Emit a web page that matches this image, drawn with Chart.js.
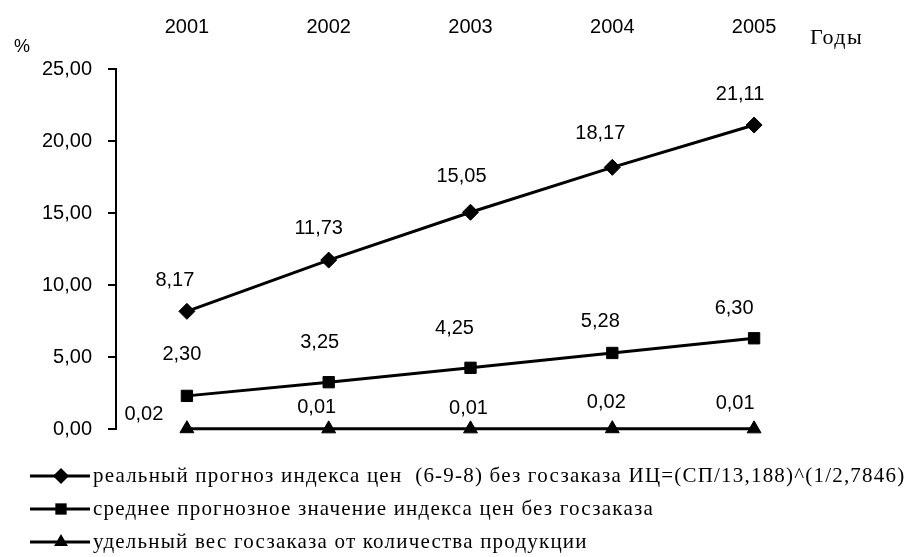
<!DOCTYPE html>
<html><head><meta charset="utf-8">
<script src="https://cdn.jsdelivr.net/npm/chart.js@4/dist/chart.umd.min.js"></script>
<style>html,body{margin:0;padding:0;background:#fff}#wrap{width:914px;height:557px}</style>
</head><body><div id="wrap"><canvas id="c" width="914" height="557"></canvas></div>
<script>
// ---- data ----
const years = ['2001', '2002', '2003', '2004', '2005'];
const realForecast = [8.17, 11.73, 15.05, 18.17, 21.11];
const avgForecast = [2.30, 3.25, 4.25, 5.28, 6.30];
const stateOrderShare = [0.02, 0.01, 0.01, 0.02, 0.01];
const seriesNames = [
  'реальный прогноз индекса цен  (6-9-8) без госзаказа ИЦ=(СП/13,188)^(1/2,7846)',
  'среднее прогнозное значение индекса цен без госзаказа',
  'удельный вес госзаказа от количества продукции'
];
const yMin = 0, yMax = 25, yStep = 5;
const yUnit = '%';
const xUnit = 'Годы';

// ---- style ----
const NUM_FONT = '20px "Liberation Sans", Arial, sans-serif';
const SERIF_FONT = '21px "Liberation Serif", "Times New Roman", serif';
const markerStyles = ['rectRot', 'rect', 'triangle'];
// label offsets (px) relative to each point, per series
const labelDX = [[-12, -10, -9, -12, -14], [-5, -9, -16, -12, -20], [-43, -12, -2, -6, -19]];
const labelDY = [[-31, -32, -36, -34, -31], [-41, -40, -39, -31, -30], [-14, -21, -20, -26, -25]];

const fmt = v => v.toFixed(2).replace('.', ',');

function drawMarker(ctx, style, x, y, r) {
  ctx.save();
  ctx.fillStyle = '#000';
  ctx.beginPath();
  if (style === 'rectRot') {
    ctx.moveTo(x, y - r); ctx.lineTo(x + r, y); ctx.lineTo(x, y + r); ctx.lineTo(x - r, y);
  } else if (style === 'rect') {
    const s = r * Math.SQRT1_2;
    ctx.rect(x - s, y - s, 2 * s, 2 * s);
  } else {
    const h = r * 0.866;
    ctx.moveTo(x, y - r); ctx.lineTo(x + h, y + r / 2); ctx.lineTo(x - h, y + r / 2);
  }
  ctx.closePath();
  ctx.fill();
  ctx.restore();
}

const extras = {
  id: 'extras',
  afterDatasetsDraw(chart) {
    const ctx = chart.ctx;
    ctx.save();
    ctx.fillStyle = '#000';
    ctx.font = NUM_FONT;
    ctx.textAlign = 'center';
    ctx.textBaseline = 'middle';
    chart.data.datasets.forEach((ds, di) => {
      chart.getDatasetMeta(di).data.forEach((pt, i) => {
        ctx.fillText(fmt(ds.data[i]), pt.x + labelDX[di][i], pt.y + labelDY[di][i]);
      });
    });
    // axis unit labels
    const ys = chart.scales.y, xs = chart.scales.x;
    ctx.font = '18px "Liberation Sans", Arial, sans-serif';
    ctx.fillText(yUnit, 22, ys.getPixelForValue(yMax) - 22);
    ctx.font = '22px "Liberation Serif", "Times New Roman", serif';
    ctx.textAlign = 'left';
    ctx.letterSpacing = '1.5px';
    ctx.fillText(xUnit, xs.getPixelForValue(years.length - 1) + 56, 38);
    // legend
    const rows = [476, 509, 542];
    ctx.font = SERIF_FONT;
    ctx.letterSpacing = '1.2px';
    chart.data.datasets.forEach((ds, di) => {
      const y = rows[di];
      ctx.strokeStyle = '#000';
      ctx.lineWidth = 3;
      ctx.beginPath(); ctx.moveTo(30, y); ctx.lineTo(90, y); ctx.stroke();
      drawMarker(ctx, markerStyles[di], 61, y, 8);
      ctx.fillText(ds.label, 93, y);
    });
    ctx.restore();
  }
};

const mk = (label, data, style) => ({
  label, data,
  borderColor: '#000', backgroundColor: '#000', borderWidth: 3,
  pointStyle: style, pointRadius: 8, pointBackgroundColor: '#000', pointBorderColor: '#000', pointBorderWidth: 1,
  tension: 0, clip: false
});

new Chart(document.getElementById('c'), {
  type: 'line',
  data: {
    labels: years,
    datasets: [
      mk(seriesNames[0], realForecast, markerStyles[0]),
      mk(seriesNames[1], avgForecast, markerStyles[1]),
      mk(seriesNames[2], stateOrderShare, markerStyles[2])
    ]
  },
  options: {
    responsive: false, animation: false, devicePixelRatio: 1,
    layout: { padding: { left: 0, right: 89, top: 0, bottom: 128 } },
    plugins: { legend: { display: false }, tooltip: { enabled: false } },
    scales: {
      x: {
        type: 'category', position: 'top', offset: true,
        grid: { display: false, drawTicks: false }, border: { display: false },
        ticks: { color: '#000', font: { family: '"Liberation Sans", Arial, sans-serif', size: 20 }, padding: 30, maxRotation: 0 },
        afterFit: s => { s.height = 69; }
      },
      y: {
        min: yMin, max: yMax,
        ticks: { stepSize: yStep, color: '#000', padding: 16, font: { family: '"Liberation Sans", Arial, sans-serif', size: 20 }, callback: v => fmt(v) },
        grid: { drawOnChartArea: false, drawTicks: true, tickLength: 8, color: '#000', lineWidth: 2 },
        border: { display: true, color: '#000', width: 2 },
        afterFit: s => { s.width = 116; }
      }
    }
  },
  plugins: [extras]
});
</script></body></html>
